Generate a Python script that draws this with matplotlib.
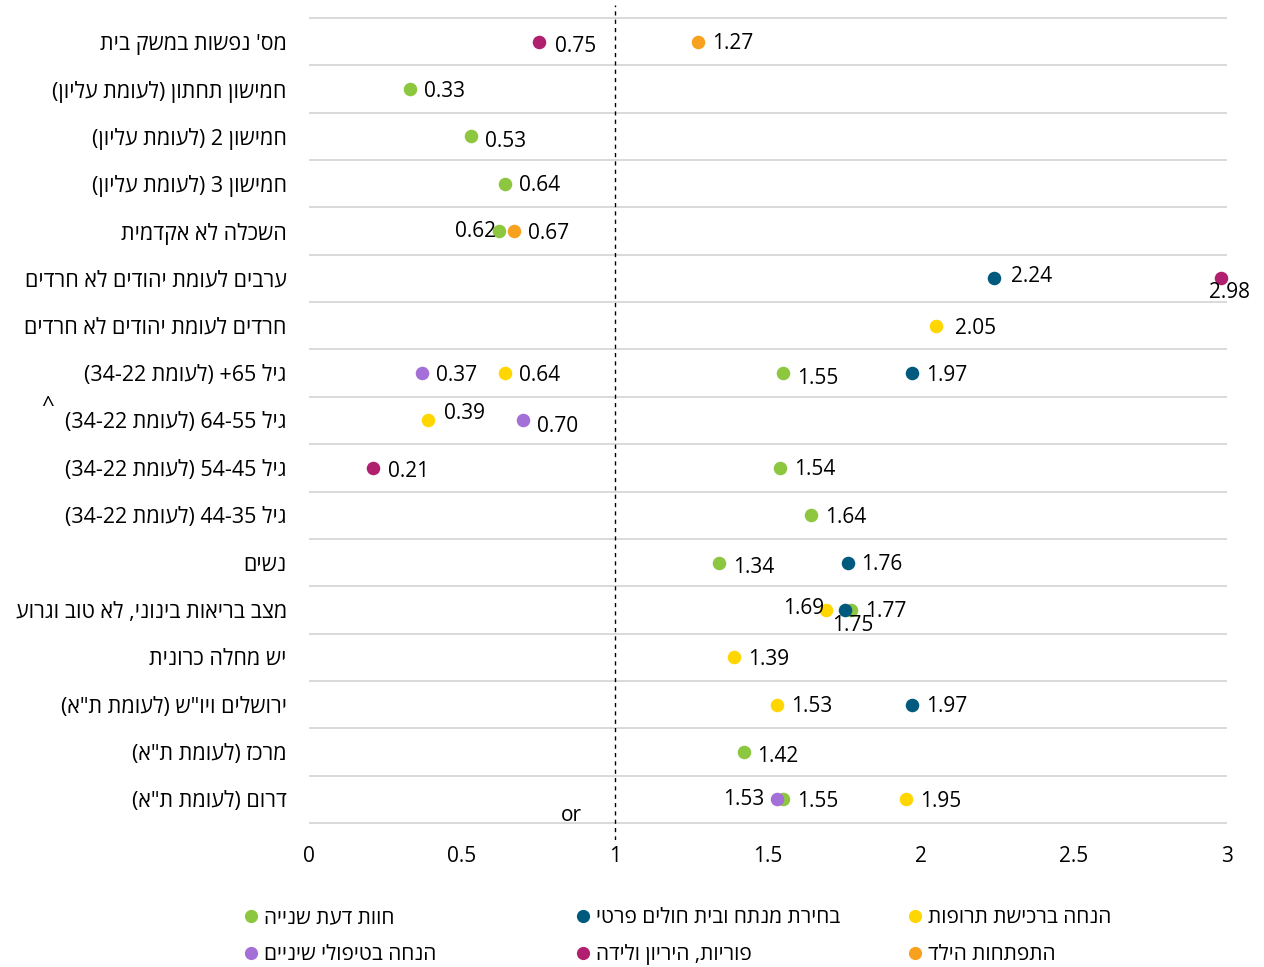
import re
import matplotlib
matplotlib.use('Agg')
import matplotlib.pyplot as plt
from matplotlib.lines import Line2D

plt.rcParams['font.family'] = ['Open Sans', 'DejaVu Sans']

# categories, top to bottom (logical order Hebrew)
categories = [
    "מס' נפשות במשק בית",
    "חמישון תחתון (לעומת עליון)",
    "חמישון 2 (לעומת עליון)",
    "חמישון 3 (לעומת עליון)",
    "השכלה לא אקדמית",
    "ערבים לעומת יהודים לא חרדים",
    "חרדים לעומת יהודים לא חרדים",
    "גיל 65+ (לעומת 22-34)",
    "גיל 55-64 (לעומת 22-34)",
    "גיל 45-54 (לעומת 22-34)",
    "גיל 35-44 (לעומת 22-34)",
    "נשים",
    "מצב בריאות בינוני, לא טוב וגרוע",
    "יש מחלה כרונית",
    'ירושלים ויו"ש (לעומת ת"א)',
    'מרכז (לעומת ת"א)',
    'דרום (לעומת ת"א)',
]

N = None
second_opinion = [N, 0.33, 0.53, 0.64, 0.62, N, N, 1.55, N, 1.54, 1.64, 1.34, 1.77, N, N, 1.42, 1.55]
private_surgeon = [N, N, N, N, N, 2.24, N, 1.97, N, N, N, 1.76, 1.75, N, 1.97, N, N]
medicine_discount = [N, N, N, N, N, N, 2.05, 0.64, 0.39, N, N, N, 1.69, 1.39, 1.53, N, 1.95]
dental_discount = [N, N, N, N, N, N, N, 0.37, 0.70, N, N, N, N, N, N, N, 1.53]
fertility = [0.75, N, N, N, N, 2.98, N, N, N, 0.21, N, N, N, N, N, N, N]
child_dev = [1.27, N, N, N, 0.67, N, N, N, N, N, N, N, N, N, N, N, N]

series = [
    ("חוות דעת שנייה", second_opinion, '#8DC63F'),
    ("בחירת מנתח ובית חולים פרטי", private_surgeon, '#005A7E'),
    ("הנחה ברכישת תרופות", medicine_discount, '#FFD600'),
    ("הנחה בטיפולי שיניים", dental_discount, '#A46FD6'),
    ("פוריות, היריון ולידה", fertility, '#B1206F'),
    ("התפתחות הילד", child_dev, '#F7A11F'),
]

x_ticks = [0, 0.5, 1, 1.5, 2, 2.5, 3]
x_tick_labels = ['0', '0.5', '1', '1.5', '2', '2.5', '3']

# label placement exceptions (series index, row) -> (ha, dx px, dy px)
label_pos = {
    (0, 4): ('right', -3, 0),
    (4, 5): ('center', 9, -14),
    (2, 12): ('right', -2, 1),
    (1, 12): ('center', 8, -16),
    (3, 16): ('right', -13, 0),
    (2, 8): ('left', 16, 7),
    (3, 8): ('left', 14, -6),
    (0, 7): ('left', 14, -5),
    (4, 0): ('left', 16, -5),
    (0, 2): ('left', 14, -5),
    (0, 11): ('left', 14, -5),
    (0, 15): ('left', 14, -5),
    (4, 9): ('left', 15, -4),
    (1, 5): ('left', 17, 2),
    (2, 6): ('left', 19, -3),
}

MIRROR = str.maketrans('()', ')(')


def visual(s):
    # crude bidi: digit runs stay LTR, everything else reversed
    runs = re.findall(r'[0-9.]+|[^0-9.]+', s)
    out = []
    for r in reversed(runs):
        if r[0].isdigit():
            out.append(r)
        else:
            out.append(r[::-1].translate(MIRROR))
    return ''.join(out)


fig = plt.figure(figsize=(12.64, 9.67), dpi=100)
ax = fig.add_axes([309 / 1264, 1 - 840 / 967, 918 / 1264, 835 / 967])

rows = list(range(len(categories)))
ax.hlines([r - 0.5 for r in rows] + [len(rows) - 0.5], 0, 3,
          color='#D9D9D9', lw=1.4, zorder=1)
ax.axvline(1, color='black', lw=1, ls=(0, (3, 3)), zorder=2)

for si, (name, vals, color) in enumerate(series):
    xs = [v for v in vals if v is not None]
    ys = [r for r, v in zip(rows, vals) if v is not None]
    ax.scatter(xs, ys, s=95, color=color, zorder=3 + si, clip_on=False,
               linewidths=0)
    for x, y in zip(xs, ys):
        ha, dx, dy = label_pos.get((si, y), ('left', 14, -2))
        ax.annotate(f'{x:.2f}', (x, y), xytext=(dx * 0.72, dy * 0.72),
                    textcoords='offset points', ha=ha, va='center',
                    fontsize=15, color='black', zorder=10,
                    annotation_clip=False)

ax.set_xlim(0, 3)
ax.set_ylim(len(rows) - 0.5 + 17 / 47.35, -0.5 - 13 / 47.35)
ax.set_xticks(x_ticks)
ax.set_xticklabels(x_tick_labels, fontsize=15)
ax.set_yticks(rows)
ax.set_yticklabels([visual(c) for c in categories], fontsize=15.5)
ax.tick_params(length=0)
ax.tick_params(axis='y', pad=16)
ax.tick_params(axis='x', pad=4)
for sp in ax.spines.values():
    sp.set_visible(False)

ax.text(0.856, 16.35, 'or', fontsize=15, ha='center', va='center')
fig.text(48 / 1264, 1 - 406 / 967, '^', fontsize=16, ha='center', va='center')

# legend in three columns, Excel style
cols = [[0, 3], [1, 4], [2, 5]]
col_x = [228, 560, 892]
for cx, idx in zip(col_x, cols):
    handles = [Line2D([], [], ls='', marker='o', ms=9.5, mew=0,
                      color=series[i][2]) for i in idx]
    labels = [visual(series[i][0]) for i in idx]
    fig.legend(handles, labels, loc='upper left',
               bbox_to_anchor=(cx / 1264, 1 - 897 / 967), frameon=False,
               fontsize=15, handletextpad=0.05, handlelength=1.2,
               labelspacing=0.75, borderpad=0)

fig.savefig('out.png', dpi=100)
